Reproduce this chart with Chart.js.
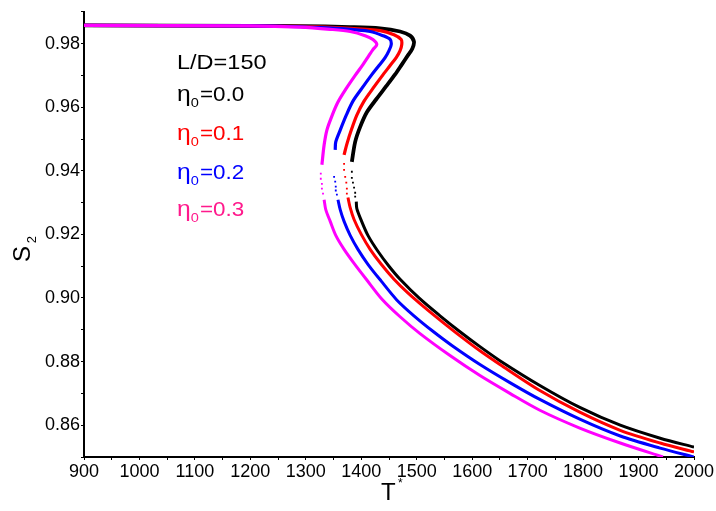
<!DOCTYPE html>
<html>
<head>
<meta charset="utf-8">
<script src="https://cdn.jsdelivr.net/npm/chart.js@4/dist/chart.umd.min.js"></script>
<style>
  html, body { margin: 0; padding: 0; background: #fff; }
  #wrap { width: 716px; height: 511px; }
</style>
</head>
<body>
<div id="wrap"><canvas id="orderChart"></canvas></div>
<script>
// S2 vs T* for L/D = 150, points as [T*, S2], ordered along each S-shaped curve
const blackUpper = [[900,0.9857],[1199,0.9856],[1290,0.9855],[1380,0.9852],[1434,0.9848],[1470,0.9838],[1488,0.9825],[1495,0.9806],[1492,0.9784],[1484,0.9763],[1473,0.9734],[1461,0.9703],[1445,0.9666],[1427,0.9625],[1410,0.9584],[1398,0.9538],[1389,0.9491],[1383,0.9428]];
const blackDots  = [[1383,0.9397],[1383,0.9378],[1385,0.9363],[1387,0.9347],[1389,0.9331],[1389,0.9319]];
const blackLower = [[1391,0.9303],[1392,0.9281],[1400,0.9244],[1412,0.9197],[1430,0.9147],[1450,0.9100],[1470,0.9059],[1506,0.8997],[1542,0.8944],[1578,0.8894],[1614,0.8847],[1650,0.8803],[1722,0.8725],[1794,0.8656],[1867,0.8600],[1939,0.8559],[2000,0.8531]];

const redUpper = [[900,0.9857],[1199,0.9856],[1290,0.9854],[1380,0.9848],[1434,0.9841],[1459,0.9828],[1472,0.9813],[1473,0.9797],[1470,0.9778],[1463,0.9756],[1452,0.9731],[1437,0.9697],[1421,0.9659],[1405,0.9619],[1392,0.9575],[1382,0.9528],[1374,0.9484],[1369,0.9450]];
const redDots  = [[1369,0.9422],[1369,0.9403],[1371,0.9381],[1373,0.9363],[1374,0.9344],[1374,0.9328]];
const redLower = [[1376,0.9316],[1380,0.9284],[1387,0.9247],[1400,0.9200],[1416,0.9153],[1436,0.9106],[1459,0.9059],[1484,0.9016],[1513,0.8972],[1546,0.8925],[1578,0.8881],[1614,0.8834],[1650,0.8791],[1722,0.8709],[1794,0.8641],[1867,0.8584],[1939,0.8544],[2000,0.8516]];

const blueUpper = [[900,0.9857],[1199,0.9856],[1290,0.9853],[1362,0.9847],[1416,0.9838],[1439,0.9825],[1452,0.9813],[1454,0.9797],[1450,0.9778],[1443,0.9756],[1432,0.9731],[1418,0.9700],[1401,0.9659],[1385,0.9619],[1373,0.9575],[1362,0.9528],[1354,0.9491],[1353,0.9466]];
const blueDots  = [[1351,0.9381],[1353,0.9366],[1354,0.9350],[1354,0.9338],[1356,0.9325]];
const blueLower = [[1358,0.9309],[1362,0.9278],[1369,0.9241],[1380,0.9197],[1394,0.9153],[1412,0.9106],[1436,0.9053],[1464,0.8994],[1495,0.8944],[1528,0.8897],[1564,0.8850],[1614,0.8791],[1668,0.8734],[1722,0.8681],[1794,0.8619],[1867,0.8566],[1939,0.8528],[2000,0.8500]];

const pinkUpper = [[900,0.9857],[1199,0.9856],[1290,0.9852],[1344,0.9845],[1380,0.9838],[1407,0.9825],[1421,0.9813],[1428,0.9797],[1421,0.9781],[1414,0.9763],[1403,0.9734],[1389,0.9700],[1373,0.9659],[1358,0.9616],[1347,0.9572],[1338,0.9528],[1333,0.9481],[1329,0.9419]];
const pinkDots  = [[1327,0.9391],[1327,0.9375],[1329,0.9359],[1329,0.9344],[1331,0.9328]];
const pinkLower = [[1333,0.9309],[1336,0.9278],[1344,0.9241],[1354,0.9197],[1369,0.9153],[1387,0.9109],[1409,0.9059],[1437,0.8997],[1470,0.8941],[1506,0.8888],[1560,0.8819],[1614,0.8756],[1668,0.8700],[1722,0.8647],[1794,0.8591],[1867,0.8544],[1944,0.8500]];

const etaLabels = ['0.0', '0.1', '0.2', '0.3'];
const xTicks = [900, 1000, 1100, 1200, 1300, 1400, 1500, 1600, 1700, 1800, 1900, 2000];
const yTicks = [0.86, 0.88, 0.90, 0.92, 0.94, 0.96, 0.98];

const curveColors = ['#000000', '#ff0000', '#0000ff', '#ff00ff'];
const textColors  = ['#000000', '#ff0000', '#0000ff', '#ff1a8c'];

const toXY = arr => arr.map(p => ({ x: p[0], y: p[1] }));

function lineSet(arr, color, w) {
  return { data: toXY(arr), showLine: true, borderColor: color, borderWidth: w,
           pointRadius: 0, tension: 0.3, fill: false };
}
function dotSet(arr, color) {
  return { data: toXY(arr), showLine: false, pointRadius: 1.3, pointBorderWidth: 0,
           pointBackgroundColor: color, pointStyle: 'rect' };
}

// first dataset is painted last, so pink goes first to sit on top like the original
const datasets = [
  lineSet(pinkUpper, curveColors[3], 3.2), dotSet(pinkDots, curveColors[3]), lineSet(pinkLower, curveColors[3], 3),
  lineSet(blueUpper, curveColors[2], 3.2), dotSet(blueDots, curveColors[2]), lineSet(blueLower, curveColors[2], 3),
  lineSet(redUpper, curveColors[1], 3.2),  dotSet(redDots, curveColors[1]),  lineSet(redLower, curveColors[1], 3),
  lineSet(blackUpper, curveColors[0], 3.8), dotSet(blackDots, curveColors[0]), lineSet(blackLower, curveColors[0], 3)
];

const FONT = '"Liberation Sans", Arial, sans-serif';

const annotate = {
  id: 'annotate',
  afterDraw(chart) {
    const c = chart.ctx;
    const a = chart.chartArea;
    c.save();
    c.textBaseline = 'alphabetic';
    c.textAlign = 'left';

    const x0 = a.left + 93;
    c.save();
    c.translate(x0, a.top + 57);
    c.scale(1.12, 1);
    c.fillStyle = '#000';
    c.font = '21px ' + FONT;
    c.fillText('L/D=150', 0, 0);
    c.restore();

    const bases = [89, 128, 167, 204];
    etaLabels.forEach((v, i) => {
      c.save();
      c.translate(x0, a.top + bases[i]);
      c.scale(1.12, 1);
      c.fillStyle = textColors[i];
      c.font = '22px ' + FONT;
      c.fillText('\u03b7', 0, 0);
      let x = c.measureText('\u03b7').width;
      c.font = '13px ' + FONT;
      c.fillText('0', x, 6);
      x += c.measureText('0').width + 1;
      c.font = '20px ' + FONT;
      c.fillText('=' + v, x, 0);
      c.restore();
    });

    // x axis title T*
    c.fillStyle = '#000';
    c.font = '24px ' + FONT;
    c.fillText('T', 381, 500);
    c.font = '12px ' + FONT;
    c.fillText('*', 398, 487);

    // y axis title S2
    c.translate(30, 262);
    c.rotate(-Math.PI / 2);
    c.font = '24px ' + FONT;
    c.fillText('S', 0, 0);
    c.font = '13px ' + FONT;
    c.fillText('2', c.measureText('S').width + 10, 6);
    c.restore();
  }
};

new Chart(document.getElementById('orderChart'), {
  type: 'scatter',
  data: { datasets },
  options: {
    responsive: true,
    maintainAspectRatio: false,
    animation: false,
    layout: { padding: { top: 9, right: 22, left: 0, bottom: 0 } },
    plugins: { legend: { display: false }, tooltip: { enabled: false } },
    scales: {
      x: {
        type: 'linear', min: 900, max: 2000,
        afterFit(s) { s.height = 54; },
        afterBuildTicks(s) { s.ticks = xTicks.flatMap(v => v < 2000 ? [{ value: v }, { value: v + 50 }] : [{ value: v }]); },
        border: { display: true, color: '#000', width: 2 },
        grid: { drawOnChartArea: false, drawTicks: true, tickLength: 3, color: '#000', tickColor: '#000' },
        ticks: {
          color: '#000', padding: 1, maxRotation: 0, autoSkip: false,
          font: { family: FONT, size: 18 },
          callback: v => xTicks.includes(v) ? String(v) : ''
        }
      },
      y: {
        type: 'linear', min: 0.85, max: 0.99,
        afterFit(s) { s.width = 84; },
        afterBuildTicks(s) { s.ticks = yTicks.flatMap(v => [{ value: +(v - 0.01).toFixed(2) }, { value: v }]).concat([{ value: 0.99 }]); },
        border: { display: true, color: '#000', width: 2 },
        grid: { drawOnChartArea: false, drawTicks: true, tickLength: 3, color: '#000', tickColor: '#000' },
        ticks: {
          color: '#000', padding: 1, autoSkip: false,
          font: { family: FONT, size: 18 },
          callback: v => yTicks.some(t => Math.abs(t - v) < 1e-6) ? v.toFixed(2) : ''
        }
      }
    }
  },
  plugins: [annotate]
});
</script>
</body>
</html>
